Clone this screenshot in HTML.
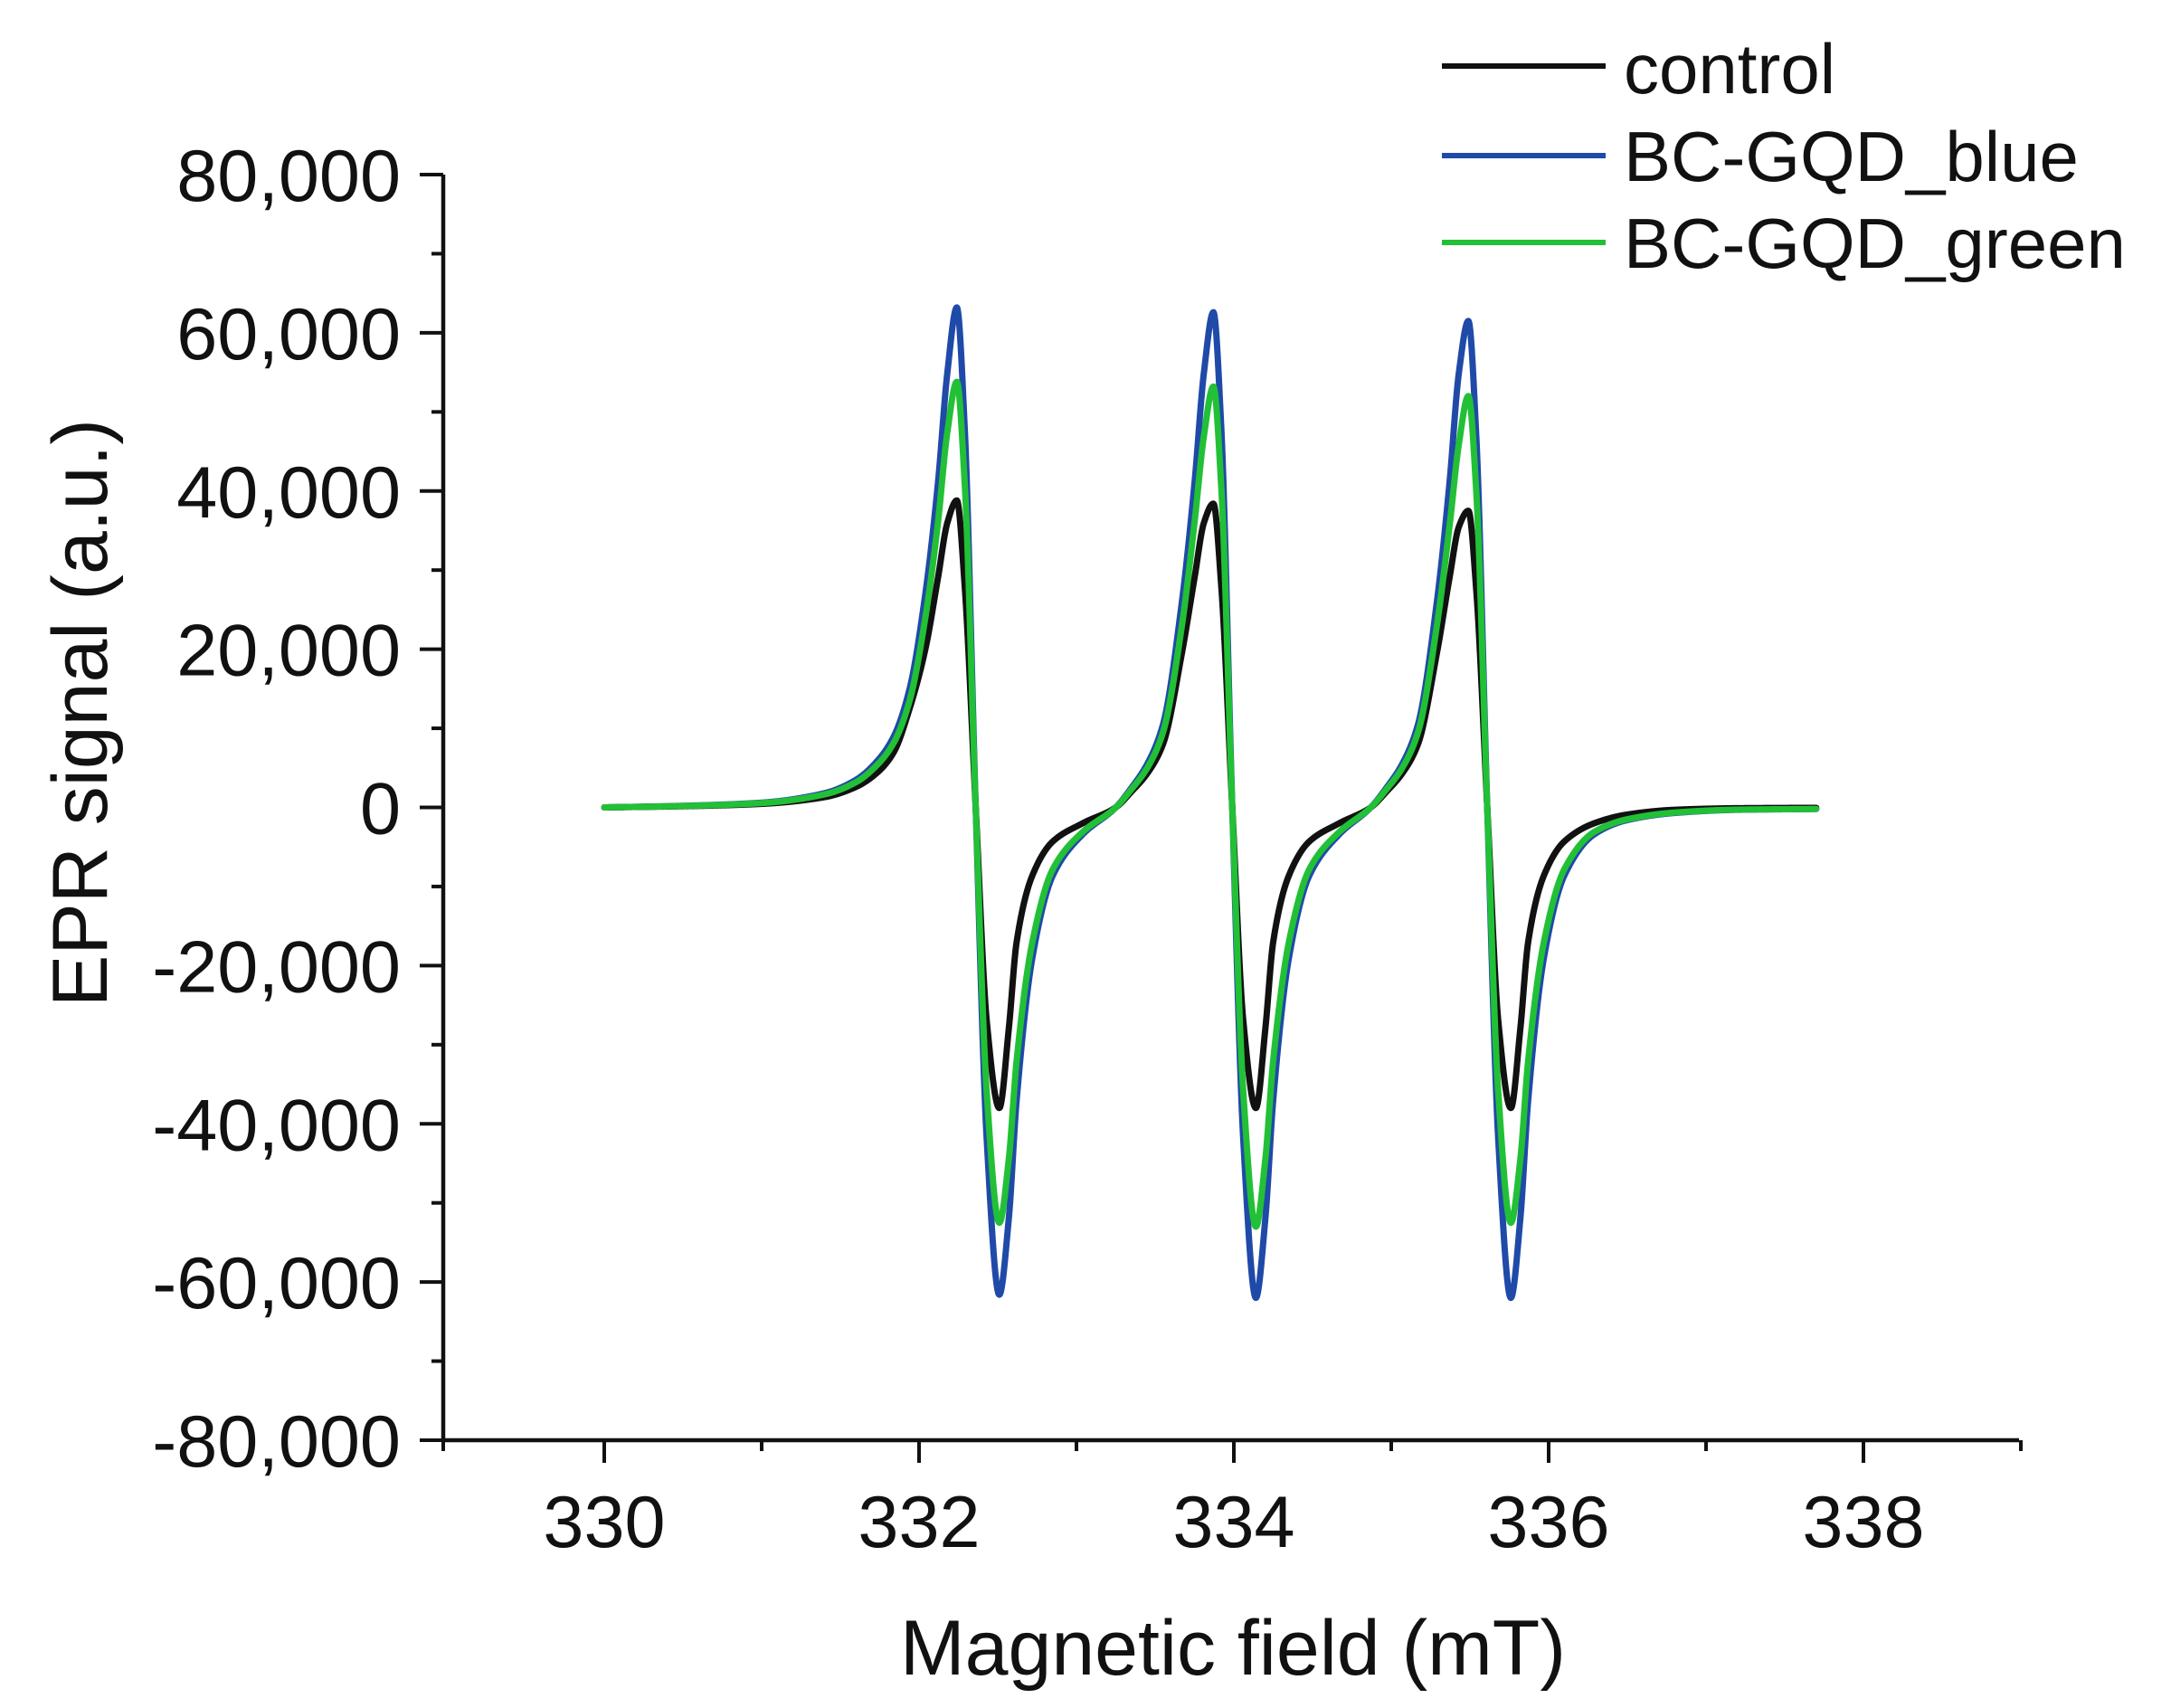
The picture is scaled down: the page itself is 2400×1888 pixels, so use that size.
<!DOCTYPE html>
<html><head><meta charset="utf-8">
<style>
html,body{margin:0;padding:0;background:#fff;}
svg{display:block;}
text{font-family:"Liberation Sans",Arial,sans-serif;fill:#111;}
</style></head>
<body>
<svg id="chart" width="2400" height="1888" viewBox="0 0 2400 1888" xmlns="http://www.w3.org/2000/svg">
  <g id="axes"></g>
  <g id="series"></g>
  <text x="1363" y="1851" font-size="86" text-anchor="middle">Magnetic field (mT)</text>
  <text x="0" y="0" font-size="86" text-anchor="middle" transform="translate(118,788) rotate(-90)">EPR signal (a.u.)</text>
  <g>
    <line x1="1594" y1="73" x2="1775" y2="73" stroke="#111" stroke-width="6"/>
    <text x="1795" y="103" font-size="78">control</text>
    <line x1="1594" y1="172" x2="1775" y2="172" stroke="#1f4aa8" stroke-width="6"/>
    <text x="1795" y="200" font-size="78">BC-GQD_blue</text>
    <line x1="1594" y1="268" x2="1775" y2="268" stroke="#22c036" stroke-width="6"/>
    <text x="1795" y="296" font-size="78">BC-GQD_green</text>
  </g>
</svg>
<script>
const fieldValues = [330.0,330.5,331.0,331.4,331.6,331.74,331.84,331.94,332.04,332.12,332.18,332.24,332.29,332.36,332.43,332.51,332.57,332.62,332.72,332.85,333.04,333.25,333.35,333.45,333.55,
333.67,333.75,333.81,333.87,333.92,333.99,334.06,334.14,334.20,334.25,334.35,334.48,334.67,334.87,334.97,335.07,335.17,
335.29,335.37,335.43,335.49,335.54,335.61,335.68,335.76,335.82,335.87,335.97,336.10,336.29,336.5,336.8,337.2,337.7];
const blueValues = [0,200,600,1800,3500,6000,9000,15000,27000,41000,55000,63200,48000,0,-42000,-61600,-52000,-37000,-19000,-8600,-3400,0,2500,5500,10500,
26000,41000,55000,62600,48000,0,-42000,-62000,-52000,-37000,-19000,-8600,-3400,0,2500,5500,10500,
26000,41000,55000,61500,47000,0,-42000,-62000,-52000,-37000,-19000,-8600,-3400,-1600,-700,-300,-200];
const greenValues = [0,180,550,1650,3200,5500,8200,13500,24000,36000,47500,53800,41000,0,-36000,-52500,-44500,-32000,-17000,-7800,-3100,0,2300,5000,9500,
23000,36000,47000,53200,40500,0,-36000,-53000,-44500,-32000,-17000,-7800,-3100,0,2300,5000,9500,
23000,35500,46000,52000,40000,0,-36000,-52500,-44500,-32000,-17000,-7800,-3100,-1500,-650,-280,-200];
const controlValues = [0,150,450,1300,2600,4500,7000,12500,20000,29000,36000,38800,28000,0,-27000,-38000,-28000,-17000,-8600,-4300,-2000,0,2000,4300,8000,
19500,29000,36000,38400,28000,0,-27000,-38000,-28000,-17000,-8600,-4300,-2000,0,2000,4300,8000,
19500,29000,35500,37500,27500,0,-27000,-38000,-28000,-17000,-8600,-4300,-2000,-900,-300,-100,-50];
const xTickValues = [330,332,334,336,338];
const xMinorValues = [331,333,335,337,339];
const yTickValues = [80000,60000,40000,20000,0,-20000,-40000,-60000,-80000];
const yTickLabels = ["80,000","60,000","40,000","20,000","0","-20,000","-40,000","-60,000","-80,000"];
const yMinorValues = [70000,50000,30000,10000,-10000,-30000,-50000,-70000];

const AX_L=490, AX_R=2232, Y0=1592, Y1=193;
const YMIN=-80000, YMAX=80000;
function sx(v){return 668+(v-330)*174;}
function sy(v){return Y0-(v-YMIN)/(YMAX-YMIN)*(Y0-Y1);}
const NS="http://www.w3.org/2000/svg";
const axes=document.getElementById('axes');
function mk(tag,attrs,parent){const e=document.createElementNS(NS,tag);for(const k in attrs)e.setAttribute(k,attrs[k]);parent.appendChild(e);return e;}

let el=mk('line',{x1:AX_L,y1:Y1,x2:AX_L,y2:Y0+2,stroke:'#111','stroke-width':4.5},axes);


el=mk('line',{x1:AX_L-2,y1:Y0,x2:AX_R,y2:Y0,stroke:'#111','stroke-width':4.5},axes);


el=mk('line',{x1:AX_L,y1:Y0,x2:AX_L,y2:Y0+12,stroke:'#111','stroke-width':4},axes);



yTickValues.forEach((v,i)=>{
  const t=mk('line',{x1:AX_L-26,y1:sy(v),x2:AX_L,y2:sy(v),stroke:'#111','stroke-width':4},axes);
  
  
  const l=mk('text',{x:443,y:sy(v)+29,'font-size':81,'text-anchor':'end'},axes);
  l.textContent=yTickLabels[i];
  
  
});
yMinorValues.forEach(v=>{
  const t=mk('line',{x1:AX_L-13,y1:sy(v),x2:AX_L,y2:sy(v),stroke:'#111','stroke-width':4},axes);
  
  
});
xTickValues.forEach(v=>{
  const t=mk('line',{x1:sx(v),y1:Y0,x2:sx(v),y2:Y0+25,stroke:'#111','stroke-width':4},axes);
  
  
  const l=mk('text',{x:sx(v),y:1710,'font-size':81,'text-anchor':'middle'},axes);
  l.textContent=String(v);
  
  
});
xMinorValues.forEach(v=>{
  const t=mk('line',{x1:sx(v),y1:Y0,x2:sx(v),y2:Y0+12,stroke:'#111','stroke-width':4},axes);
  
  
});

function monotone(xs,ys){
  const n=xs.length,d=[],m=new Array(n);
  for(let i=0;i<n-1;i++)d.push((ys[i+1]-ys[i])/(xs[i+1]-xs[i]));
  m[0]=d[0];m[n-1]=d[n-2];
  for(let i=1;i<n-1;i++){
    if(d[i-1]*d[i]<=0)m[i]=0;
    else{const h0=xs[i]-xs[i-1],h1=xs[i+1]-xs[i];const w1=2*h1+h0,w2=h1+2*h0;m[i]=(w1+w2)/(w1/d[i-1]+w2/d[i]);}
  }
  return function(x){
    let i=0;while(i<n-2&&x>xs[i+1])i++;
    const h=xs[i+1]-xs[i],t=(x-xs[i])/h;
    const t2=t*t,t3=t2*t;
    return (2*t3-3*t2+1)*ys[i]+(t3-2*t2+t)*h*m[i]+(-2*t3+3*t2)*ys[i+1]+(t3-t2)*h*m[i+1];
  };
}
const sg=document.getElementById('series');
function drawSeries(vals,color,name){
  const f=monotone(fieldValues,vals);
  const a=fieldValues[0],b=fieldValues[fieldValues.length-1];
  let d='';const N=3000;
  for(let k=0;k<=N;k++){const x=a+(b-a)*k/N;d+=(k?'L':'M')+sx(x).toFixed(2)+','+sy(f(x)).toFixed(2);}
  const p=mk('path',{d:d,fill:'none',stroke:color,'stroke-width':7,'stroke-linejoin':'round','stroke-linecap':'round'},sg);
  
  
}
drawSeries(blueValues,'#1f4aa8','series-bc-gqd-blue');
drawSeries(controlValues,'#111111','series-control');
drawSeries(greenValues,'#22c036','series-bc-gqd-green');
</script>
</body></html>
